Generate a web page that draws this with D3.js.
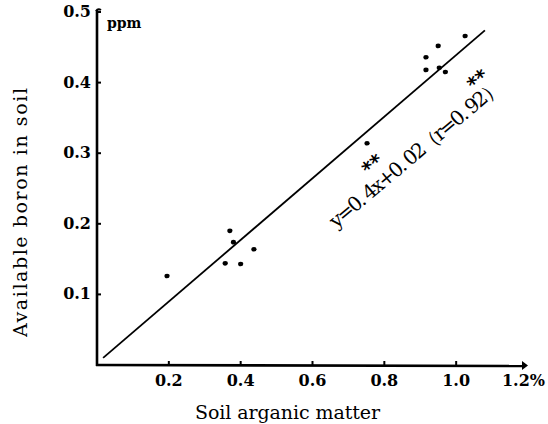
<!DOCTYPE html>
<html><head><meta charset="utf-8">
<script src="https://cdn.jsdelivr.net/npm/d3@7"></script>
<style>body{margin:0;background:#fff}svg{display:block}svg text{font-family:"DejaVu Serif",serif}</style>
</head><body><svg id="c" width="548" height="424"></svg>
<script>
const organicMatter = [0.195, 0.357, 0.37, 0.38, 0.40, 0.437, 0.752, 0.916, 0.916, 0.95, 0.953, 0.97, 1.025];
const boron        = [0.126, 0.144, 0.19, 0.174, 0.143, 0.164, 0.314, 0.418, 0.436, 0.452, 0.421, 0.415, 0.466];
const xTicks = [0.2, 0.4, 0.6, 0.8, 1.0];
const xTickLabels = ["0.2", "0.4", "0.6", "0.8", "1.0"];
const yTicks = [0.1, 0.2, 0.3, 0.4, 0.5];
const yTickLabels = ["0.1", "0.2", "0.3", "0.4", "0.5"];
const fitX = [0.017, 1.08];
const fitY = [0.01, 0.474];
const starX = [0.76, 1.053];
const starY = [0.288, 0.408];
const equation = "y=0. 4x+0. 02（r=0. 92）";

const svg = d3.select("#c");
const x = d3.scaleLinear().domain([0, 1.2]).range([97, 528]);
const y = d3.scaleLinear().domain([0, 0.5]).range([365, 12]);

const g = svg.append("g");
g.append("line").attr("x1", x(0)).attr("x2", x(0)).attr("y1", y(0)+1).attr("y2", y(0.5)-2)
  .attr("stroke", "#000").attr("stroke-width", 2.6);
g.append("line").attr("x1", x(0)-1).attr("x2", 522).attr("y1", y(0)).attr("y2", y(0)+1)
  .attr("stroke", "#000").attr("stroke-width", 2.6);
g.append("path").attr("d", `M522,${y(0)-4} L528,${y(0)+0.5} L522,${y(0)+5} Z`).attr("fill", "#000");
g.append("path").attr("d", `M${x(0)-1},${y(0.5)-1} q2,-3 5,-1`).attr("stroke", "#000").attr("stroke-width", 2).attr("fill", "none");

g.selectAll(".xt").data(xTicks).join("line").attr("x1", d => x(d)).attr("x2", d => x(d))
  .attr("y1", y(0)).attr("y2", y(0)-4).attr("stroke", "#000").attr("stroke-width", 2);
g.selectAll(".yt").data(yTicks).join("line").attr("x1", x(0)).attr("x2", x(0)+4)
  .attr("y1", d => y(d)).attr("y2", d => y(d)).attr("stroke", "#000").attr("stroke-width", 2);

g.selectAll(".xl").data(xTicks).join("text").attr("x", d => x(d)).attr("y", 386)
  .attr("text-anchor", "middle").attr("font-size", 16).attr("font-weight", "bold")
  .text((d, i) => xTickLabels[i]);
g.append("text").attr("x", x(1.2) + 17).attr("y", 386).attr("text-anchor", "end")
  .attr("font-size", 16).attr("font-weight", "bold").text("1.2%");
g.selectAll(".yl").data(yTicks).join("text").attr("x", 91).attr("y", d => y(d) + 5)
  .attr("text-anchor", "end").attr("font-size", 16).attr("font-weight", "bold")
  .text((d, i) => yTickLabels[i]);
g.append("text").attr("x", 107).attr("y", 28).attr("font-size", 14).attr("font-weight", "bold").text("ppm");

svg.append("text").attr("x", 195).attr("y", 419).attr("font-size", 19)
  .attr("textLength", 185).attr("lengthAdjust", "spacing").text("Soil arganic matter");
svg.append("text").attr("transform", "translate(27,337) rotate(-90)").attr("font-size", 19)
  .attr("textLength", 249).attr("lengthAdjust", "spacing").text("Available boron in soil");

svg.append("line").attr("x1", x(fitX[0])).attr("y1", y(fitY[0])).attr("x2", x(fitX[1])).attr("y2", y(fitY[1]))
  .attr("stroke", "#000").attr("stroke-width", 1.8);

svg.selectAll(".pt").data(organicMatter).join("ellipse")
  .attr("cx", d => x(d)).attr("cy", (d, i) => y(boron[i])).attr("rx", 2.6).attr("ry", 2.3).attr("fill", "#000");

svg.selectAll(".st").data(starX).join("text")
  .attr("transform", (d, i) => `translate(${x(d)},${y(starY[i])}) rotate(-40)`)
  .attr("text-anchor", "middle").attr("dy", "0.55em").attr("font-size", 20).attr("font-weight", "bold")
  .style("font-family", "DejaVu Sans").text("**");

svg.append("text").attr("transform", `translate(${x(0.886)},${y(0.30)}) rotate(-40)`)
  .attr("text-anchor", "middle").attr("dy", "0.35em").attr("font-size", 20)
  .attr("textLength", 218).attr("lengthAdjust", "spacing").text(equation);
</script></body></html>
